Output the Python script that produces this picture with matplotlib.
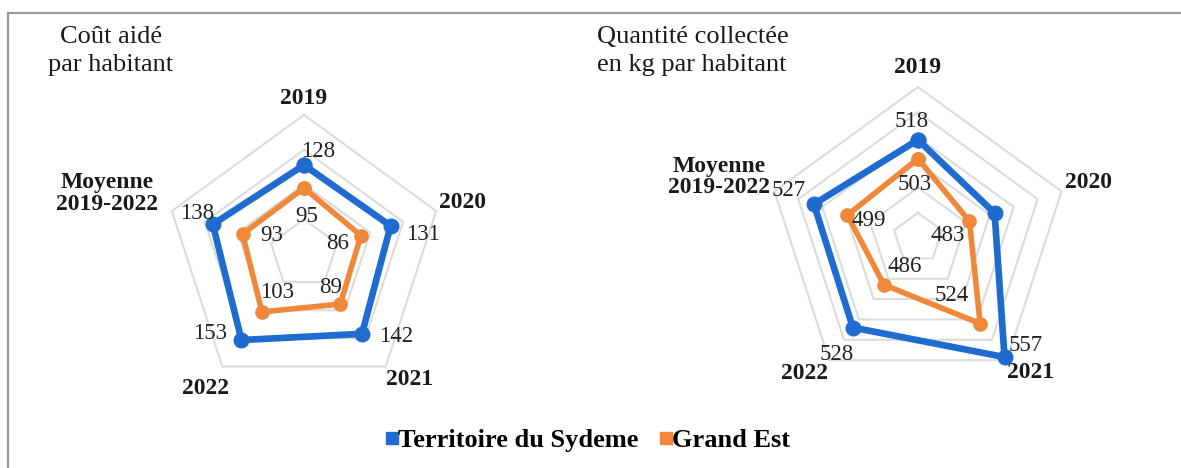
import numpy as np
import matplotlib.pyplot as plt
from matplotlib.lines import Line2D

plt.rcParams['font.family'] = ['Liberation Serif', 'DejaVu Serif']

categories = ["2019", "2020", "2021", "2022", "Moyenne\n2019-2022"]

# cout aide par habitant
cout_sydeme = [128, 131, 142, 153, 138]
cout_grand_est = [95, 86, 89, 103, 93]

# quantite collectee en kg par habitant
qte_sydeme = [518, 504, 557, 528, 527]   # 2020 has no label in the source, value estimated
qte_grand_est = [503, 483, 524, 486, 499]
qte_sydeme_labels = ["518", "", "557", "528", "527"]

BLUE = "#1f6bd0"
ORANGE = "#f0883a"
GRID = "#dcdcdc"

W, H = 1181, 468


def radar(rect, rmin, rmax, step, blue, orange, blue_labels, orange_labels,
          blue_off, orange_off, cat_pos):
    ax = fig.add_axes(rect, projection="polar")
    ax.set_theta_zero_location("N")
    ax.set_theta_direction(-1)
    ax.set_ylim(rmin, rmax)
    ax.axis("off")
    n = len(categories)
    theta = np.linspace(0, 2 * np.pi, n, endpoint=False)
    closed = np.append(theta, theta[0])
    for lvl in np.arange(rmin + step, rmax + step / 2, step):
        ax.plot(closed, [lvl] * (n + 1), color=GRID, lw=1.5, zorder=1, clip_on=False)
    ax.plot(closed, orange + orange[:1], color=ORANGE, lw=4, marker="o",
            ms=9.5, zorder=3, clip_on=False)
    ax.plot(closed, blue + blue[:1], color=BLUE, lw=4.8, marker="o",
            ms=10.5, zorder=4, clip_on=False)
    for t, v, s, off in zip(theta, blue, blue_labels, blue_off):
        if s:
            ax.annotate(s, (t, v), xytext=off, textcoords="offset pixels",
                        ha="center", va="center", fontsize=16.5, color="#222222", zorder=5)
    for t, v, s, off in zip(theta, orange, orange_labels, orange_off):
        ax.annotate(s, (t, v), xytext=off, textcoords="offset pixels",
                    ha="center", va="center", fontsize=16.5, color="#222222", zorder=5)
    for t, c, (rf, dt) in zip(theta, categories, cat_pos):
        ax.text(t + np.radians(dt), rmin + rf * (rmax - rmin), c, ha="center", va="center",
                fontsize=17, fontweight="bold", color="#1a1a1a", clip_on=False,
                linespacing=1.05)
    return ax


fig = plt.figure(figsize=(W / 100, H / 100), dpi=100)

# frame of the scanned figure (top and left edges)
fig.add_artist(Line2D([8 / W, 1], [1 - 13 / H, 1 - 13 / H], color="#9a9a9a", lw=1.6))
fig.add_artist(Line2D([8 / W, 8 / W], [0, 1 - 13 / H], color="#9a9a9a", lw=1.6))

radar([165 / W, 75 / H, 278 / W, 278 / H], 0, 200, 50,
      cout_sydeme, cout_grand_est,
      [str(v) for v in cout_sydeme], [str(v) for v in cout_grand_est],
      [(14, 14), (32, -9), (34, -3), (-31, 7), (-16, 11)],
      [(3, -29), (-23, -8), (-10, 17), (15, 19), (29, -1)],
      [(1.12, 0), (1.2, 0), (1.18, -4), (1.2, 0), (1.48, -1)])

radar([767 / W, 79 / H, 302 / W, 302 / H], 440, 560, 20,
      qte_sydeme, qte_grand_est,
      qte_sydeme_labels, [str(v) for v in qte_grand_est],
      [(-6, 18), (0, 0), (21, 12), (-16, -27), (-25, 14)],
      [(-3, -26), (-22, -14), (-28, 28), (21, 18), (21, -5)],
      [(1.13, 0), (1.19, 0), (1.16, -4), (1.17, 4), (1.38, -1)])

fig.text(111 / W, 1 - 51 / H, "Coût aidé\npar habitant", ha="center", va="center",
         fontsize=19, color="#1a1a1a", linespacing=1.35)
fig.text(597 / W, 1 - 51 / H, "Quantité collectée\nen kg par habitant", ha="left", va="center",
         fontsize=19, color="#1a1a1a", linespacing=1.35)

handles = [Line2D([], [], ls="", marker="s", ms=8, color=BLUE),
           Line2D([], [], ls="", marker="s", ms=8, color=ORANGE)]
fig.legend(handles, ["Territoire du Sydeme", "Grand Est"], loc="center",
           bbox_to_anchor=(588 / W, 1 - 440 / H), ncol=2, frameon=False,
           prop={"weight": "bold", "size": 19}, handletextpad=0.0,
           columnspacing=0.8, handlelength=0.45)

fig.savefig("out.png", dpi=100)
